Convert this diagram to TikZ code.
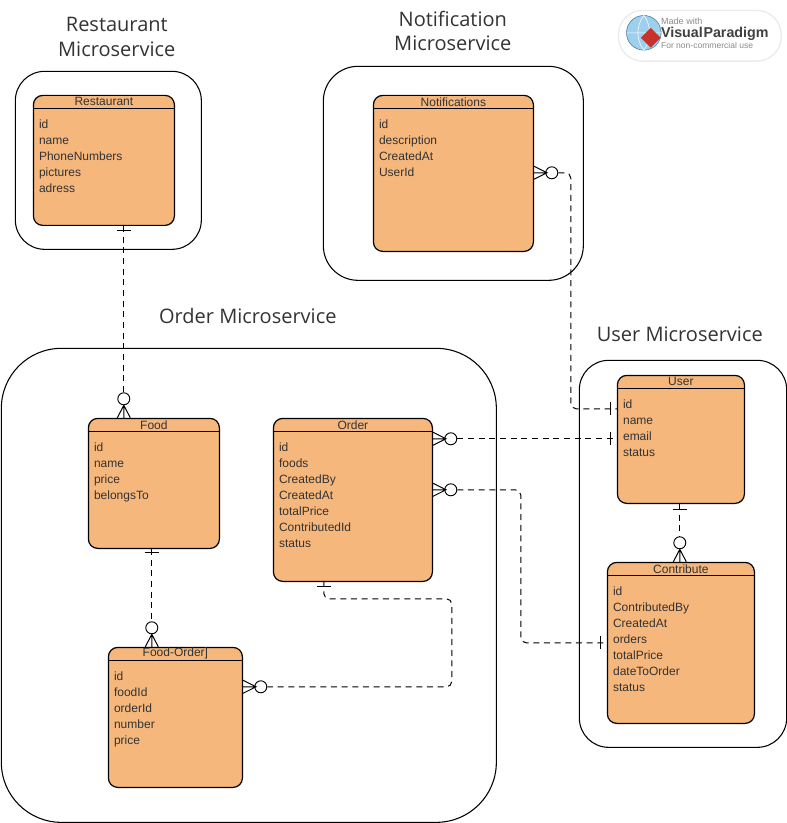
\documentclass[tikz,border=0pt]{standalone}
\usepackage{fontspec}
\setmainfont{Liberation Sans}
\newfontfamily\titlefont{Open Sans}
\usetikzlibrary{shapes.geometric, positioning}

\definecolor{entityfill}{HTML}{F5B77C}
\definecolor{logogrey}{HTML}{8A8A8A}
\definecolor{logoblue}{HTML}{5BB0E0}
\definecolor{logored}{HTML}{C8322B}

\tikzset{
    service/.style={rectangle, draw, anchor=north west, line width=.8pt},
    entity/.style={rectangle, draw, fill=entityfill, anchor=north west, rounded corners=7pt, line width=.9pt, inner sep=0pt},
    headline/.style={line width=.65pt},
    headtext/.style={inner sep=0pt, text=black!80, font=\fontsize{9}{12}\selectfont},
    fieldtext/.style={inner sep=0pt, anchor=north west, align=left, text=black!80, font=\fontsize{9}{12}\selectfont},
    servicetext/.style={align=center, inner sep=0pt, text=black!80, font=\titlefont\fontsize{15}{18.5}\selectfont},
    ring/.style={circle, draw, fill=white, inner sep=0pt, minimum size=9pt, line width=.7pt},
    relation/.style={dashed, dash pattern=on 4.5pt off 3.5pt, rounded corners=4pt, line width=.75pt},
    crowdown/.pic={\draw[line width=.75pt] (-6.5,0) -- (0,-12.5) -- (6.5,0) (0,0) -- (0,-12.5);},
    crowright/.pic={\draw[line width=.75pt] (0,-6.5) -- (13,0) -- (0,6.5) (0,0) -- (13,0);},
    tickh/.pic={\draw[line width=.75pt] (-7,0) -- (7,0);},
    tickv/.pic={\draw[line width=.75pt] (0,-6.5) -- (0,6.5);}
}

\begin{document}
\begin{tikzpicture}[x=.75pt, y=-.75pt]
    \useasboundingbox (.2,.2) rectangle (787.2,823.2);

    % Service frames and titles
    \node (restaurantservice) [service, rounded corners=22pt, minimum width=139.5pt, minimum height=133.5pt] at (15,71) {};
    \node (notifyservice) [service, rounded corners=26pt, minimum width=195pt, minimum height=160.5pt] at (323,66) {};
    \node (orderservice) [service, rounded corners=45pt, minimum width=371.25pt, minimum height=355.5pt] at (1,348) {};
    \node (userservice) [service, rounded corners=22pt, minimum width=155.5pt, minimum height=290.25pt] at (579,360) {};
    \node (restauranttitle) [servicetext] at (117,37) {Restaurant\\Microservice};
    \node (notifytitle) [servicetext] at (453,31) {Notification\\Microservice};
    \node (ordertitle) [servicetext] at (248,316) {Order Microservice};
    \node (usertitle) [servicetext] at (680,334) {User Microservice};

    % Restaurant
    \node (restaurant) [entity, minimum width=105.75pt, minimum height=97.5pt] at (33,95) {};
    \draw[headline] (33,109) -- (174,109);
    \node (restauranthead) [headtext] at ([yshift=-5.25pt]restaurant.north) {Restaurant};
    \node (restaurantfields) [fieldtext] at ([xshift=4.5pt,yshift=-18.25pt]restaurant.north west) {id\\name\\PhoneNumbers\\pictures\\adress};

    % Notifications
    \node (notify) [entity, minimum width=120pt, minimum height=117pt] at (373,95) {};
    \draw[headline] (373,109) -- (533,109);
    \node (notifyhead) [headtext] at ([yshift=-5.25pt]notify.north) {Notifications};
    \node (notifyfields) [fieldtext] at ([xshift=4.5pt,yshift=-18.25pt]notify.north west) {id\\description\\CreatedAt\\UserId};

    % Food
    \node (food) [entity, minimum width=98.25pt, minimum height=97.5pt] at (88,418) {};
    \draw[headline] (88,432) -- (219,432);
    \node (foodhead) [headtext] at ([yshift=-5.25pt]food.north) {Food};
    \node (foodfields) [fieldtext] at ([xshift=4.5pt,yshift=-18.25pt]food.north west) {id\\name\\price\\belongsTo};

    % Order
    \node (order) [entity, minimum width=119.25pt, minimum height=122.25pt] at (273,418) {};
    \draw[headline] (273,432) -- (432,432);
    \node (orderhead) [headtext] at ([yshift=-5.25pt]order.north) {Order};
    \node (orderfields) [fieldtext] at ([xshift=4.5pt,yshift=-18.25pt]order.north west) {id\\foods\\CreatedBy\\CreatedAt\\totalPrice\\ContributedId\\status};

    % Food-Order
    \node (foodorder) [entity, minimum width=100.5pt, minimum height=105pt] at (108,647) {};
    \draw[headline] (108,661) -- (242,661);
    \node (foodorderhead) [headtext] at ([yshift=-5.25pt]foodorder.north) {Food-Order]};
    \node (foodorderfields) [fieldtext] at ([xshift=4.5pt,yshift=-18.25pt]foodorder.north west) {id\\foodId\\orderId\\number\\price};

    % User
    \node (user) [entity, minimum width=95.25pt, minimum height=96pt] at (617,375) {};
    \draw[headline] (617,389) -- (744,389);
    \node (userhead) [headtext] at ([yshift=-5.25pt]user.north) {User};
    \node (userfields) [fieldtext] at ([xshift=4.5pt,yshift=-18.25pt]user.north west) {id\\name\\email\\status};

    % Contribute
    \node (contribute) [entity, minimum width=110.25pt, minimum height=120.75pt] at (607,562) {};
    \draw[headline] (607,576) -- (754,576);
    \node (contributehead) [headtext] at ([yshift=-5.25pt]contribute.north) {Contribute};
    \node (contributefields) [fieldtext] at ([xshift=4.5pt,yshift=-18.25pt]contribute.north west) {id\\ContributedBy\\CreatedAt\\orders\\totalPrice\\dateToOrder\\status};

    % Rings at the many ends
    \node (foodring) [ring] at (124,399) {};
    \node (notifyring) [ring] at (552,173) {};
    \node (orderuserring) [ring] at (451,439) {};
    \node (ordercontring) [ring] at (451,490) {};
    \node (foodorderring) [ring] at (261,687) {};
    \node (orderfoodring) [ring] at (152,628) {};
    \node (contributering) [ring] at (680,543) {};

    % Free ends on the entity sides
    \coordinate (useridport) at (617,409);
    \coordinate (useremailport) at (617,439);
    \coordinate (contributeport) at (607,643);
    \coordinate (orderport) at (324,581);

    % Draw relations
    \draw[relation] (restaurant.south -| foodring) -- (foodring);
    \draw[relation] (notifyring) -- (571,173) -- (571,409) -- (useridport);
    \draw[relation] (orderuserring) -- (useremailport);
    \draw[relation] (ordercontring) -- (521,490) -- (521,643) -- (contributeport);
    \draw[relation] (orderport) -- (324,599) -- (452,599) -- (452,687) -- (foodorderring);
    \draw[relation] (food.south -| orderfoodring) -- (orderfoodring);
    \draw[relation] (user.south -| contributering) -- (contributering);

    % Crow feet and ticks
    \pic at (food.north -| foodring) {crowdown};
    \pic at (notify.east |- notifyring) {crowright};
    \pic at (order.east |- orderuserring) {crowright};
    \pic at (order.east |- ordercontring) {crowright};
    \pic at (foodorder.east |- foodorderring) {crowright};
    \pic at (foodorder.north -| orderfoodring) {crowdown};
    \pic at (contribute.north -| contributering) {crowdown};
    \pic at (124,231) {tickh};
    \pic at (324,587) {tickh};
    \pic at (152,553) {tickh};
    \pic at (680,510) {tickh};
    \pic at (611,409) {tickv};
    \pic at (611,439) {tickv};
    \pic at (601,643) {tickv};

    % Logo
    \node (logo) [rectangle, draw=black!8, fill=white, rounded corners=18pt, anchor=north west, minimum width=122pt, minimum height=38pt, line width=1pt] at (618,10) {};
    \node (globe) [circle, draw=logoblue!70!black, fill=logoblue!60, inner sep=0pt, minimum size=26pt] at (644,33) {};
    \draw[white, line width=.4pt] (globe.north) to[bend left=35] (globe.south) (globe.north) to[bend right=35] (globe.south) (globe.west) -- (globe.east);
    \node (logomark) [diamond, fill=logored, inner sep=0pt, minimum size=15pt] at (651,38) {};
    \node (logotop) [anchor=west, inner sep=0pt, text=logogrey, font=\fontsize{6.8}{8}\selectfont] at (661,21) {Made with};
    \node (logoname) [anchor=west, inner sep=0pt, text=black!75, font=\bfseries\fontsize{10.7}{13}\selectfont] at (661,34) {Visual\hspace{.5pt}Paradigm};
    \node (logobottom) [anchor=west, inner sep=0pt, text=logogrey, font=\fontsize{6.4}{8}\selectfont] at (661,46) {For non-commercial use};
\end{tikzpicture}
\end{document}
